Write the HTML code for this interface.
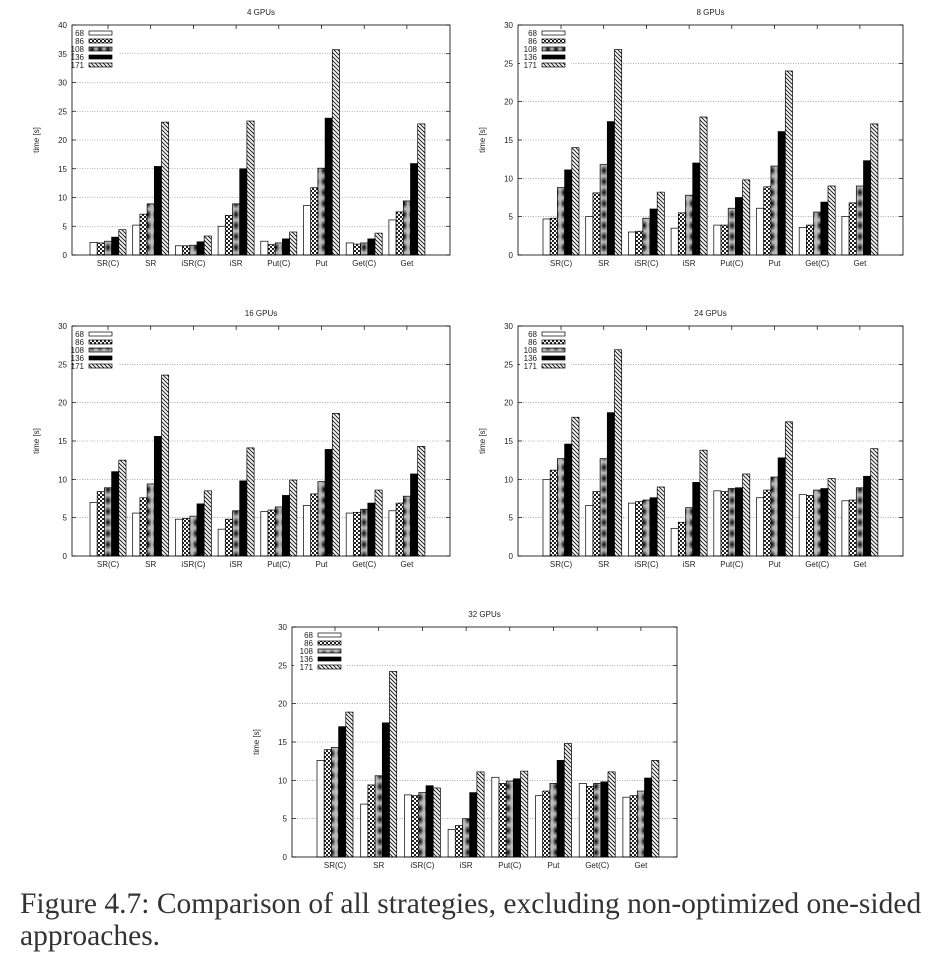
<!DOCTYPE html>
<html><head><meta charset="utf-8">
<style>
html,body{margin:0;padding:0;background:#fff;width:941px;height:957px;overflow:hidden}
svg text{font-family:"Liberation Sans",sans-serif}
.cap{position:absolute;left:20px;font-family:"Liberation Serif",serif;font-size:29.5px;color:#333;line-height:32px;white-space:nowrap}
</style></head>
<body>
<svg id="fig" width="941" height="957" style="position:absolute;left:0;top:0">
<defs>
<pattern id="p86" width="4" height="4" patternUnits="userSpaceOnUse">
<rect width="4" height="4" fill="#fff"/><rect width="2" height="2" fill="#222"/><rect x="2" y="2" width="2" height="2" fill="#222"/>
</pattern>
<radialGradient id="rg"><stop offset="0" stop-color="#000"/><stop offset="0.5" stop-color="#666"/><stop offset="1" stop-color="#bbb"/></radialGradient>
<pattern id="p108" width="8" height="11" patternUnits="userSpaceOnUse">
<rect width="8" height="11" fill="url(#rg)"/>
</pattern>
<pattern id="p171" width="4" height="4" patternUnits="userSpaceOnUse">
<rect width="4" height="4" fill="#fff"/><path d="M-1,-1 L5,5 M-1,3 L1,5 M3,-1 L5,1" stroke="#222" stroke-width="1"/>
</pattern>
</defs>
</svg>
<div class="cap" style="top:888px">Figure 4.7: Comparison of all strategies, excluding non-optimized one-sided<br>approaches.</div>
<script>
const categories = ["SR(C)","SR","iSR(C)","iSR","Put(C)","Put","Get(C)","Get"];
const seriesNames = ["68","86","108","136","171"];
const titles = ["4 GPUs","8 GPUs","16 GPUs","24 GPUs","32 GPUs"];
const yMaxes = [40,30,30,30,30];
const gpu4 = [[2.2,2.1,2.4,3.1,4.4],[5.2,7.1,8.9,15.4,23.1],[1.6,1.6,1.7,2.3,3.3],[5.0,6.9,8.9,15.0,23.3],[2.4,1.8,2.1,2.8,4.0],[8.6,11.7,15.1,23.8,35.7],[2.1,1.9,2.1,2.8,3.8],[6.1,7.5,9.4,15.9,22.8]];
const gpu8 = [[4.7,4.8,8.8,11.1,14.0],[5.0,8.1,11.8,17.4,26.8],[3.0,3.1,4.8,6.0,8.2],[3.5,5.5,7.8,12.0,18.0],[3.9,3.9,6.1,7.5,9.8],[6.1,8.9,11.6,16.1,24.0],[3.6,3.9,5.6,6.9,9.0],[5.0,6.8,9.0,12.3,17.1]];
const gpu16 = [[7.0,8.4,8.9,11.0,12.5],[5.6,7.6,9.4,15.6,23.6],[4.8,4.9,5.2,6.8,8.5],[3.5,4.8,5.9,9.8,14.1],[5.8,6.0,6.4,7.9,9.9],[6.6,8.1,9.7,13.9,18.6],[5.6,5.7,6.1,6.9,8.6],[5.9,6.9,7.8,10.7,14.3]];
const gpu24 = [[10.0,11.2,12.7,14.6,18.1],[6.6,8.4,12.7,18.7,26.9],[6.9,7.1,7.3,7.6,9.0],[3.6,4.4,6.3,9.6,13.8],[8.5,8.4,8.8,8.9,10.7],[7.6,8.6,10.3,12.8,17.5],[8.0,7.9,8.6,8.8,10.1],[7.2,7.3,8.9,10.4,14.0]];
const gpu32 = [[12.6,14.0,14.3,17.0,18.9],[6.9,9.4,10.6,17.5,24.2],[8.1,8.0,8.4,9.3,9.0],[3.6,4.1,5.0,8.4,11.1],[10.4,9.6,9.9,10.2,11.2],[8.0,8.6,9.6,12.6,14.8],[9.6,9.2,9.6,9.8,11.1],[7.8,8.0,8.6,10.3,12.6]];
const datasets = [gpu4,gpu8,gpu16,gpu24,gpu32];

const fills = ["#fff","url(#p86)","url(#p108)","#000","url(#p171)"];
const layouts = [
 {l:72,r:450,t:25,b:255,c0:108,sp:42.7,lg:12},
 {l:518,r:903,t:25,b:255,c0:561,sp:42.7,lg:19},
 {l:72,r:450,t:326,b:556,c0:108,sp:42.7,lg:12},
 {l:518,r:903,t:326,b:556,c0:561,sp:42.7,lg:19},
 {l:292,r:677,t:627,b:857,c0:335,sp:43.7,lg:21}
];
const NS="http://www.w3.org/2000/svg";
const svg=document.getElementById('fig');
function mk(tag,attrs,parent){const e=document.createElementNS(NS,tag);for(const k in attrs)e.setAttribute(k,attrs[k]);(parent||svg).appendChild(e);return e;}

layouts.forEach((L,ci)=>{
 const data=datasets[ci], ymax=yMaxes[ci];
 const g=mk('g',{});
 
 
 const y=v=>L.b-(v/ymax)*(L.b-L.t);
 const xc=i=>L.c0+L.sp*i;
 const bw=7.2;
 const tt=mk('text',{x:(L.l+L.r)/2,y:L.t-10,'font-size':8,'text-anchor':'middle',fill:'#222'},g);
 tt.textContent=titles[ci];
 
 
 for(let v=0;v<=ymax;v+=5){
  const yy=y(v);
  if(v>0&&v<ymax){
   const gl=mk('line',{x1:L.l,x2:L.r,y1:yy,y2:yy,stroke:'#777','stroke-width':0.6,'stroke-dasharray':'1,1.5'},g);
   
   
  }
  mk('line',{x1:L.l,x2:L.l+4,y1:yy,y2:yy,stroke:'#000','stroke-width':0.7},g);
  mk('line',{x1:L.r,x2:L.r-4,y1:yy,y2:yy,stroke:'#000','stroke-width':0.7},g);
  const tl=mk('text',{x:L.l-5,y:yy+3,'font-size':8,'text-anchor':'end',fill:'#222'},g);
  tl.textContent=v;
  
  
 }
 const yt=mk('text',{x:0,y:0,'font-size':8,'text-anchor':'middle',fill:'#222',transform:`translate(${L.l-33},${(L.t+L.b)/2}) rotate(-90)`},g);
 yt.textContent='time [s]';
 
 
 mk('rect',{x:L.l+2,y:L.t+3,width:L.lg+32,height:44,fill:'#fff'},g);
 categories.forEach((cat,i)=>{
  mk('line',{x1:xc(i),x2:xc(i),y1:L.b,y2:L.b-4,stroke:'#000','stroke-width':0.7},g);
  mk('line',{x1:xc(i),x2:xc(i),y1:L.t,y2:L.t+4,stroke:'#000','stroke-width':0.7},g);
  const xl=mk('text',{x:xc(i),y:L.b+11,'font-size':8,'text-anchor':'middle',fill:'#222'},g);
  xl.textContent=cat;
  
  
  data[i].forEach((v,s)=>{
   const x0=xc(i)-2.5*bw+s*bw;
   const r=mk('rect',{x:x0,y:y(v),width:bw,height:L.b-y(v),fill:fills[s],stroke:'#000','stroke-width':0.7},g);
   
   
  });
 });
 seriesNames.forEach((n,s)=>{
  const yy=L.t+8+8*s;
  const lt=mk('text',{x:L.l+L.lg,y:yy+3,'font-size':8,'text-anchor':'end',fill:'#222'},g);
  lt.textContent=n;
  
  
  const lb=mk('rect',{x:L.l+L.lg+5,y:yy-2,width:23,height:4,fill:fills[s],stroke:'#000','stroke-width':0.7},g);
  
  
 });
 const fr=mk('rect',{x:L.l,y:L.t,width:L.r-L.l,height:L.b-L.t,fill:'none',stroke:'#000','stroke-width':0.8},g);
 
 
});
</script>
</body></html>
